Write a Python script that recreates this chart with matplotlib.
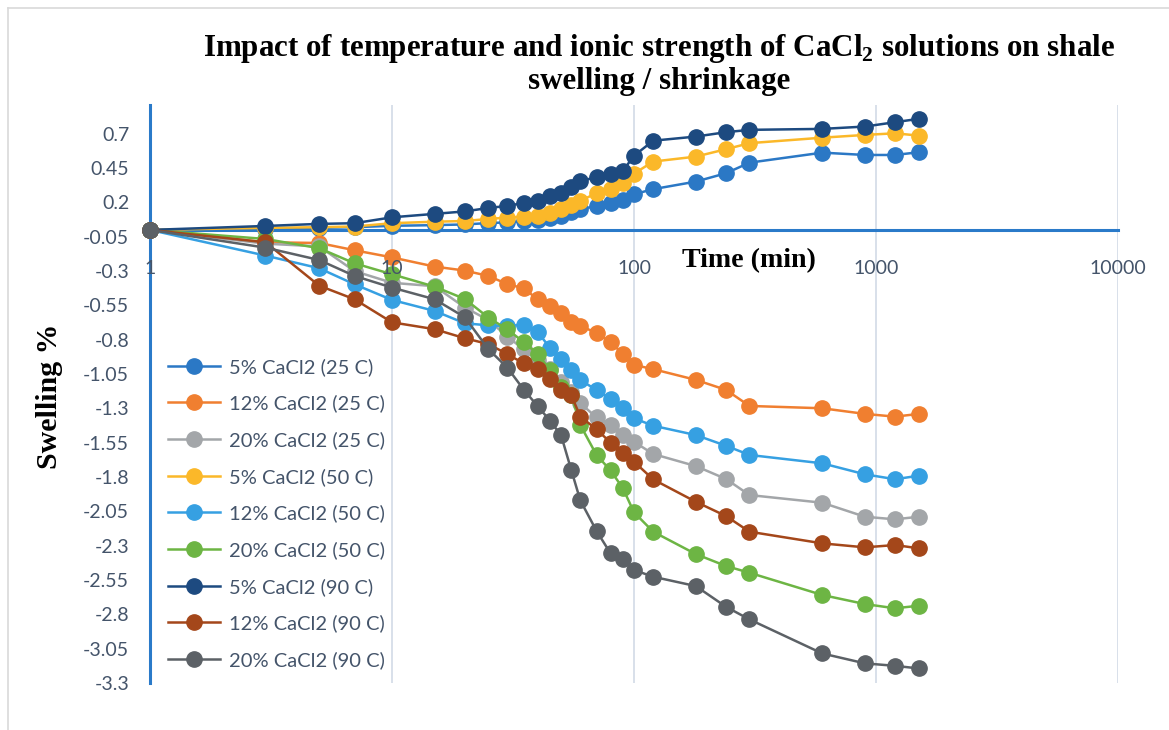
import matplotlib
matplotlib.use('Agg')
import matplotlib.pyplot as plt
from matplotlib.lines import Line2D

# ---------------- data ----------------
time_min = [1, 3, 5, 7, 10, 15, 20, 25, 30, 35, 40, 45, 50, 55, 60, 70, 80, 90,
            100, 120, 180, 240, 300, 600, 900, 1200, 1500]

s5_25 = [0, 0.01, 0.015, 0.02, 0.03, 0.035, 0.04, 0.05, 0.055, 0.065, 0.075, 0.085,
         0.105, 0.13, 0.15, 0.175, 0.197, 0.221, 0.26, 0.297, 0.352, 0.413, 0.49,
         0.563, 0.546, 0.546, 0.566]
s12_25 = [0, -0.09, -0.095, -0.148, -0.2, -0.267, -0.296, -0.335, -0.395, -0.425,
          -0.505, -0.555, -0.602, -0.672, -0.697, -0.752, -0.818, -0.903, -0.983,
          -1.014, -1.092, -1.165, -1.282, -1.299, -1.34, -1.36, -1.34]
s20_25 = [0, -0.1, -0.12, -0.3, -0.385, -0.41, -0.565, -0.656, -0.777, -0.87, -0.95,
          -1.01, -1.11, -1.18, -1.262, -1.366, -1.421, -1.49, -1.543, -1.632, -1.72,
          -1.814, -1.931, -1.987, -2.089, -2.108, -2.089]
s5_50 = [0, 0.015, 0.02, 0.025, 0.049, 0.06, 0.065, 0.08, 0.09, 0.097, 0.102, 0.121,
         0.155, 0.183, 0.213, 0.267, 0.3, 0.342, 0.41, 0.498, 0.534, 0.588, 0.632,
         0.672, 0.692, 0.704, 0.687]
s12_50 = [0, -0.187, -0.279, -0.396, -0.51, -0.59, -0.68, -0.695, -0.70, -0.69,
          -0.741, -0.862, -0.94, -1.02, -1.093, -1.166, -1.233, -1.294, -1.372,
          -1.426, -1.494, -1.572, -1.639, -1.70, -1.78, -1.816, -1.79]
s20_50 = [0, -0.066, -0.133, -0.243, -0.323, -0.413, -0.503, -0.638, -0.725, -0.817,
          -0.903, -1.022, -1.142, -1.2, -1.421, -1.639, -1.752, -1.882, -2.057,
          -2.198, -2.361, -2.448, -2.497, -2.659, -2.725, -2.756, -2.737]
s5_90 = [0, 0.029, 0.044, 0.049, 0.092, 0.117, 0.135, 0.16, 0.175, 0.197, 0.212,
         0.25, 0.272, 0.313, 0.354, 0.386, 0.41, 0.431, 0.54, 0.65, 0.68, 0.712,
         0.729, 0.736, 0.753, 0.785, 0.809]
s12_90 = [0, -0.09, -0.406, -0.505, -0.673, -0.723, -0.789, -0.831, -0.905, -0.972,
          -1.015, -1.087, -1.166, -1.202, -1.36, -1.452, -1.549, -1.622, -1.688,
          -1.817, -1.98, -2.084, -2.198, -2.283, -2.312, -2.295, -2.319]
s20_90 = [0, -0.129, -0.219, -0.335, -0.42, -0.505, -0.636, -0.868, -1.004, -1.163,
          -1.284, -1.39, -1.497, -1.746, -1.97, -2.192, -2.356, -2.399, -2.477,
          -2.526, -2.594, -2.745, -2.837, -3.085, -3.157, -3.175, -3.194]

series_labels = ['5% CaCl2 (25 C)', '12% CaCl2 (25 C)', '20% CaCl2 (25 C)',
                 '5% CaCl2 (50 C)', '12% CaCl2 (50 C)', '20% CaCl2 (50 C)',
                 '5% CaCl2 (90 C)', '12% CaCl2 (90 C)', '20% CaCl2 (90 C)']
series_values = [s5_25, s12_25, s20_25, s5_50, s12_50, s20_50, s5_90, s12_90, s20_90]
series_colors = ['#2b78c5', '#f07f30', '#a3a6a9', '#fbb829', '#36a0e2',
                 '#6db544', '#1d4a80', '#a4471a', '#5c6166']

y_ticks = [-3.3, -3.05, -2.8, -2.55, -2.3, -2.05, -1.8, -1.55, -1.3, -1.05, -0.8,
           -0.55, -0.3, -0.05, 0.2, 0.45, 0.7]
y_ticklabels = ['-3.3', '-3.05', '-2.8', '-2.55', '-2.3', '-2.05', '-1.8', '-1.55',
                '-1.3', '-1.05', '-0.8', '-0.55', '-0.3', '-0.05', '0.2', '0.45', '0.7']
x_ticks = [1, 10, 100, 1000, 10000]
x_ticklabels = ['1', '10', '100', '1000', '10000']

# ---------------- figure ----------------
W, H = 1169, 730
fig = plt.figure(figsize=(W / 100, H / 100), dpi=100)
fig.patch.set_facecolor('white')

ax = fig.add_axes([150 / W, 1 - 683 / H, (1118 - 150) / W, (683 - 105) / H])
ax.set_xscale('log')
ax.set_xlim(1, 10000)
ax.set_ylim(-3.3, 0.91)

axis_blue = '#2a7ac9'
text_col = '#44546a'
tick_font = 'Lato'

for sp in ['top', 'right']:
    ax.spines[sp].set_visible(False)
ax.spines['left'].set_color(axis_blue)
ax.spines['left'].set_linewidth(2.2)
ax.spines['left'].set_zorder(2)
ax.spines['bottom'].set_position(('data', 0))
ax.spines['bottom'].set_color(axis_blue)
ax.spines['bottom'].set_linewidth(2.2)
ax.spines['bottom'].set_zorder(2)

ax.set_xticks(x_ticks)
ax.set_xticklabels(x_ticklabels)
ax.xaxis.set_minor_locator(matplotlib.ticker.NullLocator())
ax.set_yticks(y_ticks)
ax.set_yticklabels(y_ticklabels)
ax.tick_params(axis='both', length=0, labelsize=14, labelcolor=text_col)
ax.tick_params(axis='x', pad=22)
ax.tick_params(axis='y', pad=15)
for lab in ax.get_xticklabels() + ax.get_yticklabels():
    lab.set_family(tick_font)

# vertical gridlines behind the data, x tick labels above the data
ax.grid(False)
ax.vlines(x_ticks, -3.3, 0.91, colors='#d5dde8', linewidth=1.3, zorder=0)
ax.xaxis.set_zorder(4)

handles = []
for vals, lab, col in zip(series_values, series_labels, series_colors):
    ln, = ax.plot(time_min, vals, color=col, linewidth=1.8, marker='o',
                  markersize=11, markerfacecolor=col, markeredgecolor=col,
                  label=lab, zorder=3, clip_on=False)
    handles.append(ln)

leg = ax.legend(handles=handles, loc='upper left',
                bbox_to_anchor=(168 / W, 1 - 358 / H), bbox_transform=fig.transFigure,
                frameon=False, prop={'family': tick_font, 'size': 14.5},
                handlelength=2.6, handletextpad=0.45, labelspacing=0.93,
                borderpad=0, borderaxespad=0)
for t in leg.get_texts():
    t.set_color(text_col)

# titles & axis labels
serif = 'Liberation Serif'
fig.text(659 / W, 1 - 64 / H,
         'Impact of temperature and ionic strength of CaCl$_\\mathregular{2}$ solutions on shale\nswelling / shrinkage',
         ha='center', va='center', family=serif, weight='bold', fontsize=22.3,
         linespacing=1.1, color='black')
fig.text(749 / W, 1 - 261 / H, 'Time (min)', ha='center', va='center',
         family=serif, weight='bold', fontsize=20.2, color='black')
fig.text(50 / W, 1 - 396 / H, 'Swelling %', ha='center', va='center', rotation=90,
         family=serif, weight='bold', fontsize=21.5, color='black')

# outer chart border (top and left)
fig.add_artist(Line2D([8 / W, 1.0], [1 - 8 / H, 1 - 8 / H], transform=fig.transFigure,
                      color='#d9d9d9', linewidth=1.2))
fig.add_artist(Line2D([8 / W, 8 / W], [0.0, 1 - 8 / H], transform=fig.transFigure,
                      color='#d9d9d9', linewidth=1.2))

fig.savefig('out.png', dpi=100, facecolor='white')
